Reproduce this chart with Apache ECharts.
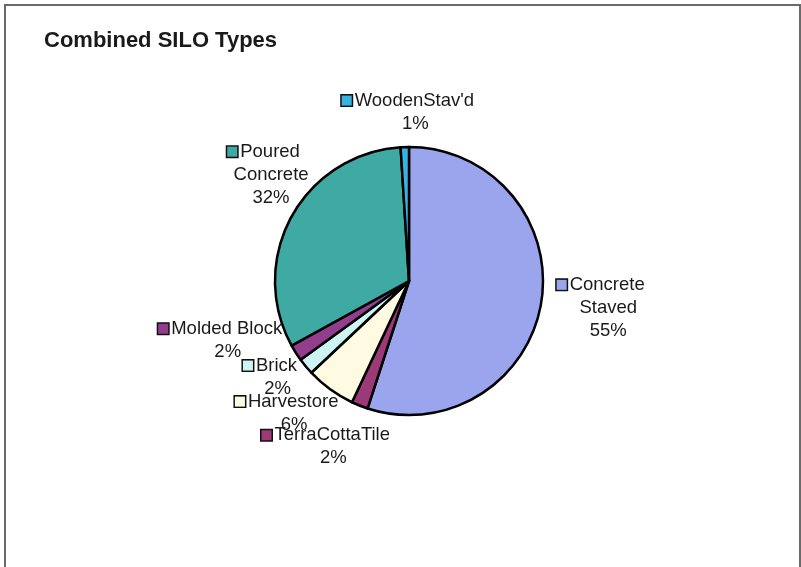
<!DOCTYPE html>
<html>
<head>
<meta charset="utf-8">
<script src="https://cdn.jsdelivr.net/npm/echarts@6/dist/echarts.min.js"></script>
<style>
html,body{margin:0;padding:0;background:#fff;}
#c{width:801px;height:567px;}
</style>
</head>
<body>
<div id="c"></div>
<script>
// ---- data ----
const categories = ['Concrete Staved', 'TerraCottaTile', 'Harvestore', 'Brick', 'Molded Block', 'Poured Concrete', "WoodenStav'd"];
const labelFirstLine = ['Concrete', 'TerraCottaTile', 'Harvestore', 'Brick', 'Molded Block', 'Poured', "WoodenStav'd"];
const labelSecondLine = ['Staved', '', '', '', '', 'Concrete', ''];
const values = [55, 2, 6, 2, 2, 32, 1];

// ---- styles / layout ----
const colors = ['#9aa5ee', '#9b3a76', '#fffbe3', '#cdf3f3', '#933d8f', '#3fa9a3', '#37b3e3'];
const PIE_CX = 409, PIE_CY = 281, PIE_R = 134, LABEL_GAP = 12;
const labelNudge = [[55, 4], [-22, 30], [-29, 14], [-19, 3], [-58, -19], [-10, -36], [11, -23]];

const total = values.reduce((a, b) => a + b, 0);
const midFrac = [];
let acc = 0;
values.forEach(v => { midFrac.push((acc + v / 2) / total); acc += v; });

const FONT = 'Liberation Sans, Arial, sans-serif';
const FS = 18.5;
const rich = {
  t: { fontSize: FS, fontFamily: FONT, color: '#1a1a1a', lineHeight: 23, align: 'center' },
  g: { width: 3, height: 11, fontSize: FS, lineHeight: 23 },
  pad: { width: 15, height: 11, fontSize: FS, lineHeight: 23 }
};
colors.forEach((c, i) => {
  rich['k' + i] = { width: 10, height: 10, backgroundColor: c, borderColor: '#111', borderWidth: 1.5, fontSize: 1, lineHeight: 23 };
});

const chart = echarts.init(document.getElementById('c'), null, { renderer: 'canvas' });
chart.setOption({
  backgroundColor: '#fff',
  animation: false,
  title: {
    text: 'Combined SILO Types',
    left: 39, top: 25,
    textStyle: { fontSize: 22, fontWeight: 'bold', fontFamily: FONT, color: '#1a1a1a' }
  },
  graphic: [{
    type: 'rect',
    shape: { x: 5, y: 5, width: 795, height: 600 },
    style: { fill: 'none', stroke: '#6a6a6a', lineWidth: 2 },
    silent: true
  }],
  series: [{
    type: 'pie',
    center: [PIE_CX, PIE_CY],
    radius: PIE_R,
    startAngle: 90,
    clockwise: true,
    avoidLabelOverlap: false,
    itemStyle: { borderColor: '#000', borderWidth: 2.5 },
    labelLine: { show: false },
    label: {
      show: true,
      position: 'outside',
      formatter: p => {
        const i = p.dataIndex;
        let s = '{k' + i + '| }{g| }{t|' + labelFirstLine[i] + '}{pad| }';
        if (labelSecondLine[i]) s += '\n{t|' + labelSecondLine[i] + '}';
        s += '\n{t|' + Math.round(p.percent) + '%}';
        return s;
      },
      rich: rich
    },
    labelLayout: params => {
      const i = params.dataIndex;
      const th = 2 * Math.PI * midFrac[i];
      const ux = Math.sin(th), uy = -Math.cos(th);
      return {
        x: PIE_CX + (PIE_R + LABEL_GAP) * ux + labelNudge[i][0],
        y: PIE_CY + (PIE_R + LABEL_GAP) * uy + labelNudge[i][1],
        align: 'center',
        verticalAlign: 'middle',
        hideOverlap: false
      };
    },
    emphasis: { disabled: true },
    data: categories.map((n, i) => ({ name: n, value: values[i], itemStyle: { color: colors[i] } }))
  }]
});
</script>
</body>
</html>
